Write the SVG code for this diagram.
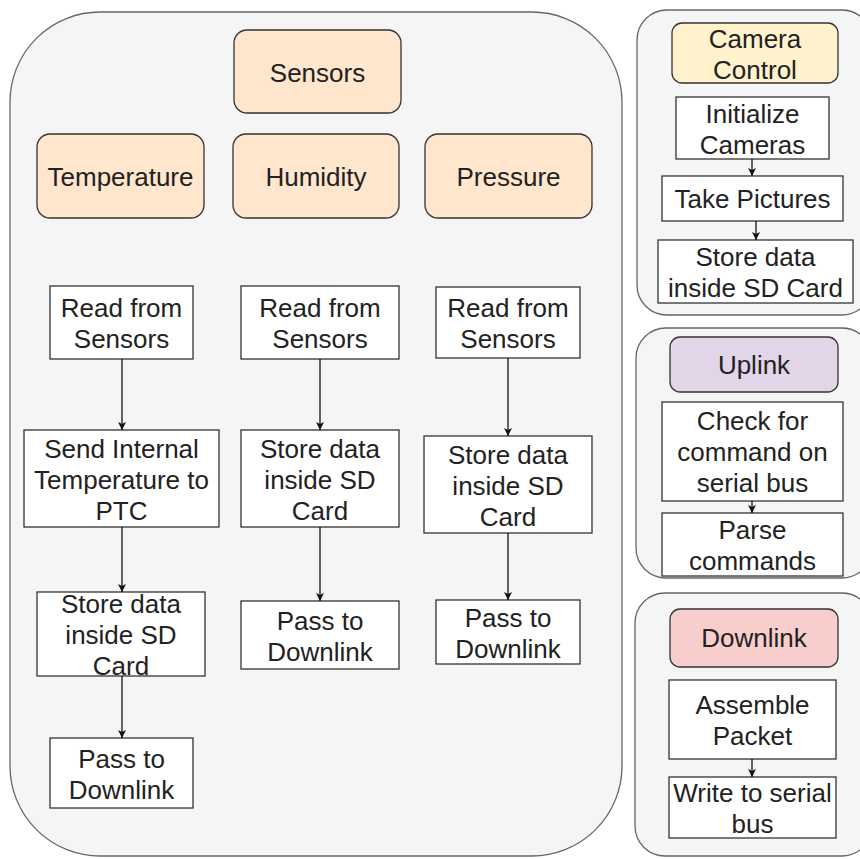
<svg xmlns="http://www.w3.org/2000/svg" width="860" height="859" viewBox="0 0 860 859">
<defs>
<marker id="ah" markerWidth="10" markerHeight="10" refX="9" refY="5" orient="auto" markerUnits="userSpaceOnUse">
<path d="M1,1 L9,5 L1,9 L3,5 z" fill="#111"/>
</marker>
</defs>
<style>
.cont{fill:#f5f5f5;stroke:#666;stroke-width:1.3}
.org{fill:#ffe6cc;stroke:#333;stroke-width:1.3}
.yel{fill:#fff2cc;stroke:#333;stroke-width:1.3}
.pur{fill:#e1d5e7;stroke:#333;stroke-width:1.3}
.red{fill:#f8cecc;stroke:#333;stroke-width:1.3}
.box{fill:#fff;stroke:#333;stroke-width:1.3}
text{font-family:"Liberation Sans",Arial,sans-serif;font-size:26px;fill:#222;text-anchor:middle}
.c line{stroke:#111;stroke-width:1.3;marker-end:url(#ah)}
</style>
<g id="main-container"><rect class="cont" x="10" y="12" width="612" height="844" rx="90"/></g>
<g id="camera-container"><rect class="cont" x="637" y="10" width="235" height="305" rx="30"/></g>
<g id="uplink-container"><rect class="cont" x="636" y="328" width="236" height="250" rx="30"/></g>
<g id="downlink-container"><rect class="cont" x="635" y="593" width="237" height="263" rx="30"/></g>

<g id="sensors"><rect class="org" x="234" y="30" width="167" height="83" rx="13"/><text x="317.5" y="81.5">Sensors</text></g>
<g id="temperature"><rect class="org" x="37" y="134" width="167" height="84" rx="13"/><text x="120.5" y="186">Temperature</text></g>
<g id="humidity"><rect class="org" x="233" y="134" width="166" height="84" rx="13"/><text x="316" y="186">Humidity</text></g>
<g id="pressure"><rect class="org" x="425" y="134" width="167" height="84" rx="13"/><text x="508.5" y="186">Pressure</text></g>

<g id="t-read"><rect class="box" x="50" y="286" width="143" height="73"/><text x="121.5" y="317">Read from</text><text x="121.5" y="348">Sensors</text></g>
<g id="t-send"><rect class="box" x="24" y="430" width="195" height="97"/><text x="121.5" y="457.5">Send Internal</text><text x="121.5" y="488.5">Temperature to</text><text x="121.5" y="519.5">PTC</text></g>
<g id="t-store"><rect class="box" x="37" y="592" width="168" height="84"/><text x="121" y="613">Store data</text><text x="121" y="644">inside SD</text><text x="121" y="675">Card</text></g>
<g id="t-pass"><rect class="box" x="50" y="738" width="143" height="70"/><text x="121.5" y="768">Pass to</text><text x="121.5" y="799">Downlink</text></g>

<g id="h-read"><rect class="box" x="241" y="286" width="158" height="73"/><text x="320" y="317">Read from</text><text x="320" y="348">Sensors</text></g>
<g id="h-store"><rect class="box" x="241" y="430" width="158" height="97"/><text x="320" y="457.5">Store data</text><text x="320" y="488.5">inside SD</text><text x="320" y="519.5">Card</text></g>
<g id="h-pass"><rect class="box" x="241" y="601" width="158" height="68"/><text x="320" y="629.5">Pass to</text><text x="320" y="660.5">Downlink</text></g>

<g id="p-read"><rect class="box" x="436" y="287" width="144" height="71"/><text x="508" y="317">Read from</text><text x="508" y="348">Sensors</text></g>
<g id="p-store"><rect class="box" x="424" y="436" width="168" height="97"/><text x="508" y="463.5">Store data</text><text x="508" y="494.5">inside SD</text><text x="508" y="525.5">Card</text></g>
<g id="p-pass"><rect class="box" x="436" y="600" width="144" height="64"/><text x="508" y="626.5">Pass to</text><text x="508" y="657.5">Downlink</text></g>

<g id="camera-control"><rect class="yel" x="672" y="23" width="166" height="60" rx="10"/><text x="755" y="47.5">Camera</text><text x="755" y="78.5">Control</text></g>
<g id="init-cameras"><rect class="box" x="676" y="97" width="153" height="62"/><text x="752.5" y="122.5">Initialize</text><text x="752.5" y="153.5">Cameras</text></g>
<g id="take-pictures"><rect class="box" x="662" y="176" width="181" height="45"/><text x="752.5" y="208">Take Pictures</text></g>
<g id="cam-store"><rect class="box" x="658" y="240" width="195" height="63"/><text x="755.5" y="266">Store data</text><text x="755.5" y="297">inside SD Card</text></g>

<g id="uplink"><rect class="pur" x="670" y="337" width="168" height="55" rx="10"/><text x="754" y="374">Uplink</text></g>
<g id="check-command"><rect class="box" x="662" y="402" width="181" height="99"/><text x="752.5" y="430">Check for</text><text x="752.5" y="461">command on</text><text x="752.5" y="492">serial bus</text></g>
<g id="parse-commands"><rect class="box" x="662" y="513" width="181" height="63"/><text x="752.5" y="539">Parse</text><text x="752.5" y="570">commands</text></g>

<g id="downlink"><rect class="red" x="670" y="609" width="168" height="58" rx="10"/><text x="754" y="647">Downlink</text></g>
<g id="assemble-packet"><rect class="box" x="669" y="680" width="167" height="79"/><text x="752.5" y="714">Assemble</text><text x="752.5" y="745">Packet</text></g>
<g id="write-serial"><rect class="box" x="669" y="777" width="167" height="61"/><text x="752.5" y="802">Write to serial</text><text x="752.5" y="833">bus</text></g>

<g id="connectors" class="c">
<line x1="122" y1="359" x2="122" y2="430"/>
<line x1="122" y1="527" x2="122" y2="592"/>
<line x1="122" y1="676" x2="122" y2="738"/>
<line x1="320" y1="359" x2="320" y2="430"/>
<line x1="320" y1="527" x2="320" y2="601"/>
<line x1="508" y1="358" x2="508" y2="436"/>
<line x1="508" y1="533" x2="508" y2="600"/>
<line x1="752" y1="159" x2="752" y2="176"/>
<line x1="756" y1="221" x2="756" y2="240"/>
<line x1="752" y1="501" x2="752" y2="513"/>
<line x1="752" y1="759" x2="752" y2="777"/>
</g>
</svg>
